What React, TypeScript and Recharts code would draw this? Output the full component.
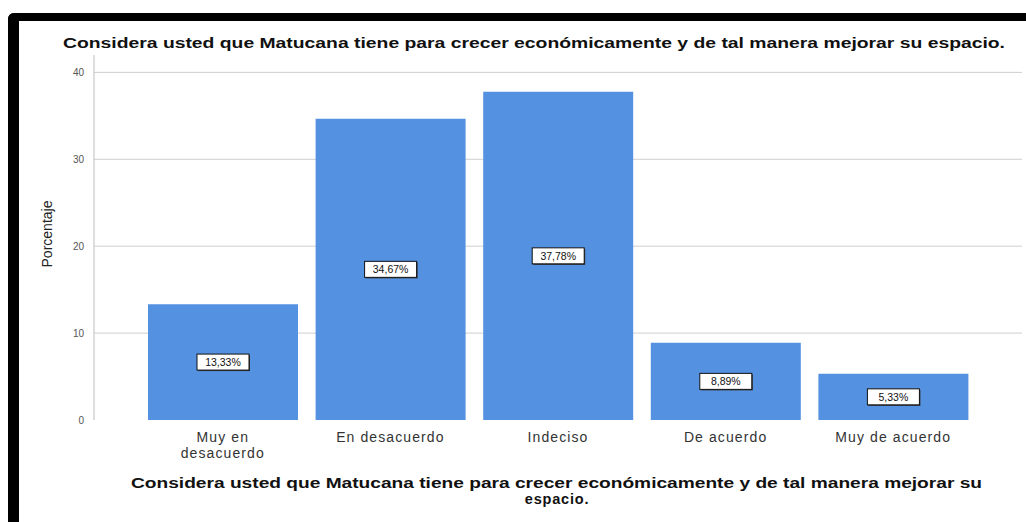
import React from 'react';
import { BarChart, Bar, XAxis, YAxis, CartesianGrid, LabelList } from 'recharts';

const categories = ['Muy en desacuerdo', 'En desacuerdo', 'Indeciso', 'De acuerdo', 'Muy de acuerdo'];
const percentages = [13.33, 34.67, 37.78, 8.89, 5.33];
const yTicks = [0, 10, 20, 30, 40];
const chartTitle = 'Considera usted que Matucana tiene para crecer económicamente y de tal manera mejorar su espacio.';
const xTitleLines = ['Considera usted que Matucana tiene para crecer económicamente y de tal manera mejorar su', 'espacio.'];
const yTitle = 'Porcentaje';

const data = categories.map((c, i) => ({ name: c, value: percentages[i] }));

const FONT = '"Liberation Sans", Arial, sans-serif';

const fmt = (v: number) => v.toFixed(2).replace('.', ',') + '%';

const CatTick = (props: any) => {
  const { x, y, payload } = props;
  const s: string = payload.value;
  let lines = [s];
  if (s.length > 15) {
    const parts = s.split(' ');
    lines = [parts.slice(0, 2).join(' '), parts.slice(2).join(' ')];
  }
  return (
    <g>
      {lines.map((l, i) => (
        <text key={i} x={x} y={y + 14 + i * 16} textAnchor="middle" fontFamily={FONT} fontSize={14} letterSpacing={1.1} fill="#333">
          {l}
        </text>
      ))}
    </g>
  );
};

const ValueLabel = (props: any) => {
  const { x, y, width, height, value } = props;
  const cx = x + width / 2;
  const cy = y + height / 2;
  const w = 52;
  const h = 16;
  return (
    <g>
      <rect x={cx - w / 2 + 1} y={cy - h / 2 + 1} width={w} height={h} fill="#333" />
      <rect x={cx - w / 2} y={cy - h / 2} width={w} height={h} fill="#ffffff" stroke="#111" strokeWidth={1} />
      <text x={cx} y={cy + 4} textAnchor="middle" fontFamily={FONT} fontSize={10.5} fill="#111">
        {fmt(value)}
      </text>
    </g>
  );
};

export default function App() {
  return (
    <div style={{ position: 'relative', width: 1026, height: 522, background: '#fff', overflow: 'hidden' }}>
      <style>{'body{margin:0;}'}</style>
      <div
        style={{
          position: 'absolute',
          left: 8,
          top: 13,
          width: 1100,
          height: 600,
          borderTop: '8px solid #000',
          borderLeft: '11px solid #000',
          borderTopLeftRadius: 6,
          boxSizing: 'border-box',
        }}
      />
      <div style={{ position: 'absolute', left: 0, top: 0 }}>
        <BarChart width={1026} height={522} data={data} margin={{ top: 55, right: 4, bottom: 72, left: 0 }}>
          <CartesianGrid vertical={false} stroke="#cfcfcf" strokeWidth={1} horizontalValues={[10, 20, 30, 40]} />
          <XAxis
            dataKey="name"
            height={30}
            axisLine={false}
            tickLine={false}
            padding={{ left: 45, right: 45 }}
            tick={<CatTick />}
            interval={0}
          />
          <YAxis
            width={94}
            domain={[0, 42]}
            ticks={yTicks}
            axisLine={{ stroke: '#bdbdbd' }}
            tickLine={false}
            tick={{ fontFamily: FONT, fontSize: 10, fill: '#555' }}
            tickMargin={4}
            label={{
              content: () => (
                <text x={52} y={234} transform="rotate(-90 52 234)" textAnchor="middle" fontFamily={FONT} fontSize={14} fill="#222">
                  {yTitle}
                </text>
              ),
            }}
          />
          <Bar dataKey="value" fill="#5591E1" barSize={150} isAnimationActive={false}>
            <LabelList dataKey="value" content={<ValueLabel />} />
          </Bar>
        </BarChart>
      </div>
      <svg width={1026} height={522} style={{ position: 'absolute', left: 0, top: 0, pointerEvents: 'none' }}>
        <text x={63} y={48} fontFamily={FONT} fontSize={14.5} fontWeight="bold" fill="#111" textLength={942} lengthAdjust="spacingAndGlyphs">
          {chartTitle}
        </text>
        <text x={131} y={488} fontFamily={FONT} fontSize={14.5} fontWeight="bold" fill="#111" textLength={851} lengthAdjust="spacingAndGlyphs">
          {xTitleLines[0]}
        </text>
        <text x={557} y={504} textAnchor="middle" fontFamily={FONT} fontSize={14.5} fontWeight="bold" fill="#111" letterSpacing={0.8}>
          {xTitleLines[1]}
        </text>
      </svg>
    </div>
  );
}
